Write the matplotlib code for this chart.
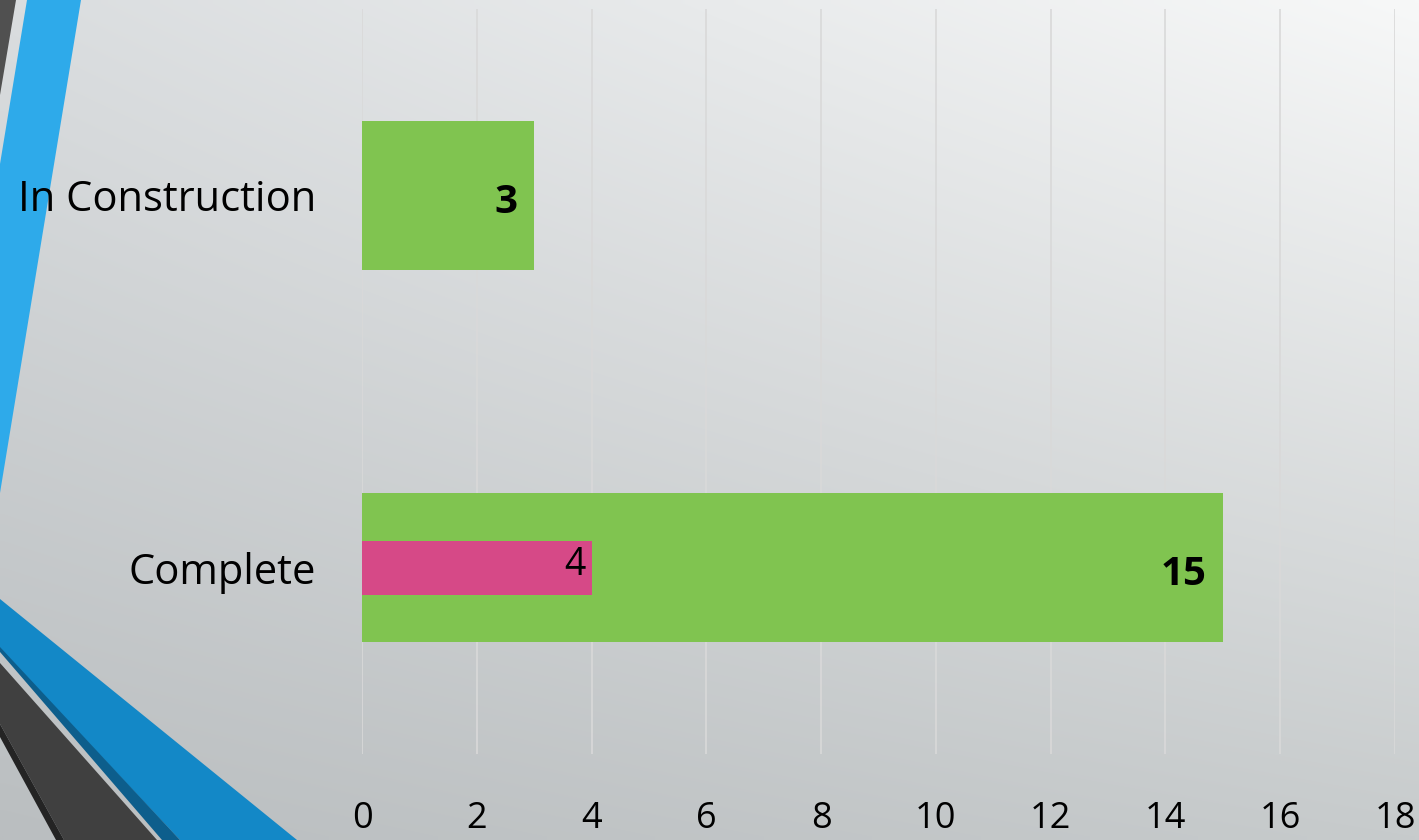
import numpy as np
import matplotlib.pyplot as plt

# chart data
categories = ['Complete', 'In Construction']
totals = [15, 3]
subset = [4, 0]
x_ticks = [0, 2, 4, 6, 8, 10, 12, 14, 16, 18]

W, H = 1419, 840
fig = plt.figure(figsize=(W / 100, H / 100), dpi=100)

# slide background: soft grey gradient, lighter toward the top right
bg = fig.add_axes([0, 0, 1, 1])
tl = np.array([218, 221, 223]) / 255
tr = np.array([247, 248, 248]) / 255
bl = np.array([186, 190, 192]) / 255
br = np.array([199, 203, 204]) / 255
u = np.linspace(0, 1, 200)[None, :, None]
v = np.linspace(0, 1, 120)[:, None, None]
grad = (1 - v) * ((1 - u) * tl + u * tr) + v * ((1 - u) * bl + u * br)
bg.imshow(grad, extent=(0, W, H, 0), aspect='auto', interpolation='bilinear')

# decorative stripes on the left edge
bg.fill([0, 16, 0], [0, 0, 95], color='#505050', lw=0)
bg.fill([27, 81, 0, 0], [0, 0, 493, 164], color='#2eaaea', lw=0)
bg.fill([0, 297, 180, 0], [599, 840, 840, 649], color='#1388c7', lw=0)
bg.fill([0, 180, 162, 0], [647, 840, 840, 652], color='#0d5e8c', lw=0)
bg.fill([0, 157, 64, 0], [663, 840, 840, 724], color='#404040', lw=0)
bg.fill([0, 64, 56, 0], [724, 840, 840, 737], color='#242424', lw=0)
bg.set_xlim(0, W)
bg.set_ylim(H, 0)
bg.axis('off')

# bar chart
ax = fig.add_axes([362 / W, 1 - 754 / H, (1395 - 362) / W, (754 - 9) / H])
ax.patch.set_alpha(0)
y = np.arange(len(categories))
ax.barh(y, totals, height=0.4, color='#80c450', zorder=2)
ax.barh(y, subset, height=0.145, color='#d64987', zorder=3)

for yi, t in zip(y, totals):
    ax.annotate(str(t), (t, yi), xytext=(-12, -5), textcoords='offset points',
                ha='right', va='center', fontsize=29, fontweight='bold',
                family='Open Sans', color='black', zorder=4)
for yi, s in zip(y, subset):
    if s:
        ax.annotate(str(s), (s, yi), xytext=(-4, 2), textcoords='offset points',
                    ha='right', va='center', fontsize=27,
                    family='Open Sans', color='black', zorder=4)

ax.set_xlim(0, 18)
ax.set_ylim(-0.5, 1.5)
ax.set_xticks(x_ticks)
ax.set_xticklabels([str(t) for t in x_ticks], family='Open Sans', fontsize=26)
ax.set_yticks(y)
ax.set_yticklabels(categories, family='Open Sans', fontsize=30)
ax.tick_params(axis='x', length=0, pad=34)
ax.tick_params(axis='y', length=0, pad=33)
ax.grid(axis='x', color='#d9d9d9', lw=1.2, zorder=1)
ax.set_axisbelow(True)
for sp in ax.spines.values():
    sp.set_visible(False)

fig.savefig('out.png', dpi=100)
